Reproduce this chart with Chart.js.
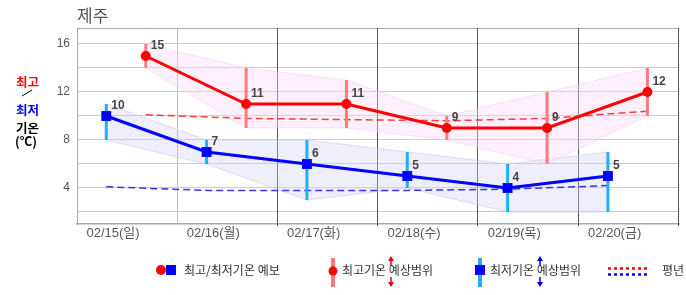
<!DOCTYPE html>
<html>
<head>
<meta charset="utf-8">
<script src="https://cdn.jsdelivr.net/npm/chart.js@4/dist/chart.umd.min.js"></script>
<style>
  body { margin: 0; background: #fff; }
  #wrap { position: relative; width: 686px; height: 295px; font-family: "Liberation Sans", "Noto Sans CJK KR", sans-serif; }
  #wrap canvas { position: absolute; left: 0; top: 0; }
  .abs { position: absolute; white-space: nowrap; }
  .side { font-family: "Noto Sans CJK KR", sans-serif; font-weight: bold; font-size: 12.5px; line-height: 14px; }
  .leg { font-family: "Noto Sans CJK KR", sans-serif; font-size: 12px; color: #333; line-height: 14px; top: 263px; }
</style>
</head>
<body>
<div id="wrap">
  <canvas id="temp" width="686" height="295"></canvas>
  <div class="abs" style="left:77px;top:5px;font-size:17px;color:#555;font-family:'Noto Sans CJK KR',sans-serif;line-height:20px;">제주</div>
  <div class="abs side" style="left:16px;top:75px;color:#f00;">최고</div>
  <svg class="abs" style="left:0;top:0" width="60" height="160"><line x1="22" y1="96" x2="32" y2="90" stroke="#000" stroke-width="1"/></svg>
  <div class="abs side" style="left:16px;top:103px;color:#00f;">최저</div>
  <div class="abs side" style="left:16px;top:121px;color:#000;">기온</div>
  <div class="abs side" style="left:15px;top:134px;color:#000;">(℃)</div>

  <svg class="abs" style="left:0;top:250px" width="686" height="45">
    <circle cx="161" cy="20" r="5" fill="#f00"/>
    <rect x="166" y="15" width="10" height="10" fill="#00f"/>
    <rect x="331" y="8" width="4" height="29" fill="#ff7b7b"/>
    <circle cx="333" cy="21" r="4.5" fill="#f00"/>
    <g stroke="#e00" fill="#e00" stroke-width="1.5">
      <line x1="391" y1="10" x2="391" y2="16"/><polygon points="388,11 394,11 391,6" stroke="none"/>
      <line x1="391" y1="27" x2="391" y2="33"/><polygon points="388,32 394,32 391,37" stroke="none"/>
    </g>
    <rect x="478" y="8" width="4" height="29" fill="#1eb0ff"/>
    <rect x="475" y="15" width="10" height="10" fill="#00f"/>
    <g stroke="#00d" fill="#00d" stroke-width="1.5">
      <line x1="540" y1="10" x2="540" y2="16"/><polygon points="537,11 543,11 540,6" stroke="none"/>
      <line x1="540" y1="27" x2="540" y2="33"/><polygon points="537,32 543,32 540,37" stroke="none"/>
    </g>
    <line x1="608" y1="18.5" x2="648" y2="18.5" stroke="#f00" stroke-width="2.5" stroke-dasharray="3,3"/>
    <line x1="608" y1="24.5" x2="648" y2="24.5" stroke="#00f" stroke-width="2.5" stroke-dasharray="3,3"/>
  </svg>
  <div class="abs leg" style="left:184px;">최고/최저기온 예보</div>
  <div class="abs leg" style="left:342px;">최고기온 예상범위</div>
  <div class="abs leg" style="left:490px;">최저기온 예상범위</div>
  <div class="abs leg" style="left:662px;">평년</div>
</div>
<script>
// 날짜별 값
const days = ['02/15(일)', '02/16(월)', '02/17(화)', '02/18(수)', '02/19(목)', '02/20(금)'];
const maxTemp = [15, 11, 11, 9, 9, 12];
const minTemp = [10, 7, 6, 5, 4, 5];
const maxRangeLow = [14, 9, 9, 8, 6, 10];
const maxRangeHigh = [16, 14, 13, 10, 12, 14];
const minRangeLow = [8, 6, 3, 4, 2, 2];
const minRangeHigh = [11, 8, 8, 7, 6, 7];
const normalMax = [10.1, 9.8, 9.7, 9.6, 9.8, 10.4];
const normalMin = [4.1, 3.8, 3.8, 3.8, 3.9, 4.2];
const yTicks = [2, 4, 6, 8, 10, 12, 14, 16];

// 하루 중 최저/최고 시각 (일 단위)
const minHour = 7 / 24;
const maxHour = 16.45 / 24;

const pts = (vals, off) => vals.map((v, i) => ({ x: i + off, y: v }));
const bars = (lo, hi, off) => {
    let out = [];
    lo.forEach((v, i) => {
        out.push({ x: i + off, y: v }, { x: i + off, y: hi[i] }, { x: i + off + 0.01, y: null });
    });
    return out;
};

const labelPlugin = {
    id: 'labels',
    afterDatasetsDraw(chart) {
        const ctx = chart.ctx;
        ctx.save();
        ctx.font = 'bold 12px "Liberation Sans", sans-serif';
        ctx.fillStyle = '#444';
        ctx.textBaseline = 'middle';
        chart.data.datasets.forEach((ds, di) => {
            if (!ds.showLabels) return;
            chart.getDatasetMeta(di).data.forEach((el, i) => {
                ctx.fillText(String(ds.data[i].y), el.x + 5, el.y - 10);
            });
        });
        ctx.restore();
    }
};

// 위쪽 테두리와 진한 날짜 구분선
const framePlugin = {
    id: 'frame',
    beforeDatasetsDraw(chart) {
        const a = chart.chartArea, ctx = chart.ctx, xs = chart.scales.x;
        ctx.save();
        ctx.setLineDash([]);
        ctx.lineWidth = 1;
        ctx.strokeStyle = '#aaa';
        ctx.beginPath();
        ctx.moveTo(a.left, a.top + 0.5);
        ctx.lineTo(a.right, a.top + 0.5);
        ctx.stroke();
        ctx.strokeStyle = '#555';
        ctx.beginPath();
        xs.ticks.forEach((t) => {
            if (t.value < 2) return;
            const px = Math.round(xs.getPixelForValue(t.value)) - 0.5;
            ctx.moveTo(px, a.top);
            ctx.lineTo(px, a.bottom + 2);
        });
        ctx.stroke();
        ctx.restore();
    }
};

new Chart(document.getElementById('temp'), {
    type: 'line',
    data: {
        datasets: [
            {
                data: pts(maxTemp, maxHour), borderColor: '#f00', backgroundColor: '#f00', borderWidth: 3,
                pointStyle: 'circle', pointRadius: 5, pointBorderWidth: 0, showLabels: true, order: 0
            },
            {
                data: pts(minTemp, minHour), borderColor: '#00f', backgroundColor: '#00f', borderWidth: 3,
                pointStyle: 'rect', pointRadius: 7, pointBorderWidth: 0, showLabels: true, order: 0
            },
            {
                data: bars(maxRangeLow, maxRangeHigh, maxHour), borderColor: '#ff7b7b', borderWidth: 3,
                pointRadius: 0, spanGaps: false, order: 1
            },
            {
                data: bars(minRangeLow, minRangeHigh, minHour), borderColor: '#1eb0ff', borderWidth: 3,
                pointRadius: 0, spanGaps: false, order: 1
            },
            {
                data: pts(normalMax, maxHour), borderColor: 'rgba(255,30,30,0.85)', borderWidth: 1.5,
                borderDash: [7, 4], pointRadius: 0, order: 2
            },
            {
                data: pts(normalMin, minHour), borderColor: 'rgba(20,20,240,0.85)', borderWidth: 1.5,
                borderDash: [7, 4], pointRadius: 0, order: 2
            },
            {
                data: pts(maxRangeHigh, maxHour), borderColor: 'rgba(245,200,240,0.5)', borderWidth: 1,
                pointRadius: 0, order: 3
            },
            {
                data: pts(maxRangeLow, maxHour), borderColor: 'rgba(245,200,240,0.5)', borderWidth: 1,
                backgroundColor: 'rgba(250,215,248,0.4)', fill: '-1', pointRadius: 0, order: 3
            },
            {
                data: pts(minRangeHigh, minHour), borderColor: 'rgba(200,200,240,0.6)', borderWidth: 1,
                pointRadius: 0, order: 3
            },
            {
                data: pts(minRangeLow, minHour), borderColor: 'rgba(200,200,240,0.6)', borderWidth: 1,
                backgroundColor: 'rgba(205,205,245,0.35)', fill: '-1', pointRadius: 0, order: 3
            }
        ]
    },
    options: {
        responsive: false,
        animation: false,
        layout: { padding: { left: 0, right: 4, top: 28, bottom: 47 } },
        plugins: { legend: { display: false }, tooltip: { enabled: false } },
        scales: {
            x: {
                type: 'linear', min: 0, max: 6,
                afterFit: (s) => { s.height = 24; },
                border: { color: '#aaa', width: 1.5 },
                grid: {
                    color: (c) => c.tick && c.tick.value <= 1 ? '#bbb' : 'rgba(0,0,0,0)',
                    drawTicks: false
                },
                ticks: {
                    stepSize: 1, autoSkip: false, maxRotation: 0, labelOffset: 36, padding: 2,
                    color: '#555', font: { size: 13, family: '"Liberation Sans", "Noto Sans CJK KR", sans-serif' },
                    callback: (v) => days[v] || ''
                }
            },
            y: {
                min: 1, max: 17.333,
                afterFit: (s) => { s.width = 77; },
                afterBuildTicks: (s) => { s.ticks = yTicks.map((v) => ({ value: v })); },
                border: { color: '#aaa' },
                grid: { color: '#ccc', drawTicks: false },
                ticks: {
                    padding: 7, color: '#555', font: { size: 12, family: '"Liberation Sans", sans-serif' },
                    callback: (v) => v % 4 === 0 ? v : ''
                }
            }
        }
    },
    plugins: [labelPlugin, framePlugin]
});
</script>
</body>
</html>
